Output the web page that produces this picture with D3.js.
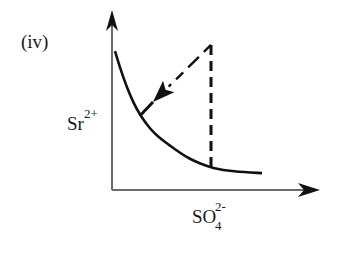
<!DOCTYPE html>
<html><head><meta charset="utf-8">
<script src="https://cdn.jsdelivr.net/npm/d3@7"></script>
<style>
html,body{margin:0;padding:0;background:#fff;}
svg{display:block;}
text{font-family:"Liberation Serif","Times New Roman",serif;fill:#1a1a1a;}
</style></head>
<body><svg id="chart"></svg>
<script>
const W=347,H=257;
// curve of solubility product (domain units)
const curveX=[0.15,0.4,0.75,1.1,1.4,1.9,2.4,2.8,3.4,3.9,4.4,5.0,6.05,7.5];
const curveY=[7.72,6.78,5.67,4.78,4.17,3.39,2.86,2.55,2.06,1.72,1.47,1.22,1.02,0.94];
// starting point and path of arrow
const startPt=[4.95,8.06];
const arrowTip=[2.05,4.89];
const hitPt=[1.4,4.12];
const dropEnd=[4.95,1.22];
const labels={panel:'(iv)',y:'Sr',ySup:'2+',x:'SO',xSub:'4',xSup:'2-'};

const svg=d3.select('#chart').attr('width',W).attr('height',H).attr('viewBox',`0 0 ${W} ${H}`);
const x=d3.scaleLinear().domain([0,10]).range([112,312]);
const y=d3.scaleLinear().domain([0,10]).range([190,10]);

// axes
svg.append('line').attr('x1',x(0)).attr('x2',x(9.6)).attr('y1',y(0)).attr('y2',y(0))
  .attr('stroke','#6b6b6b').attr('stroke-width',2);
svg.append('line').attr('x1',x(0)).attr('x2',x(0)).attr('y1',y(0)).attr('y2',y(9.6))
  .attr('stroke','#6b6b6b').attr('stroke-width',2);
// arrowheads (swept)
const xt=x(10.4), yt=y(10.0);
svg.append('path').attr('d',`M${xt},${y(0)} L${xt-22},${y(0)-7} L${xt-16},${y(0)} L${xt-22},${y(0)+7}Z`).attr('fill','#111');
svg.append('path').attr('d',`M${x(0)},${yt} L${x(0)-6},${yt+21} L${x(0)},${yt+15} L${x(0)+6},${yt+21}Z`).attr('fill','#111');

// curve
const pts=curveX.map((v,i)=>[v,curveY[i]]);
svg.append('path').datum(pts)
  .attr('d',d3.line().x(d=>x(d[0])).y(d=>y(d[1])).curve(d3.curveBasis))
  .attr('fill','none').attr('stroke','#111').attr('stroke-width',2.6);

// vertical dashed drop
svg.append('line').attr('x1',x(startPt[0])).attr('x2',x(dropEnd[0]))
  .attr('y1',y(startPt[1])).attr('y2',y(dropEnd[1]))
  .attr('stroke','#111').attr('stroke-width',3).attr('stroke-dasharray','10,6');

// diagonal dashed arrow
const sx=x(startPt[0]), sy=y(startPt[1]), tx=x(arrowTip[0]), ty=y(arrowTip[1]);
const ang=Math.atan2(ty-sy,tx-sx), L=22, hw=8;
const bx=tx-L*Math.cos(ang), by=ty-L*Math.sin(ang);
svg.append('line').attr('x1',sx).attr('y1',sy).attr('x2',bx).attr('y2',by)
  .attr('stroke','#111').attr('stroke-width',2.4).attr('stroke-dasharray','10,7,15,7');
const nx=-Math.sin(ang), ny=Math.cos(ang);
const mx=tx-(L*0.8)*Math.cos(ang), my=ty-(L*0.8)*Math.sin(ang);
svg.append('path').attr('d',`M${tx},${ty} L${bx+nx*hw},${by+ny*hw} L${mx},${my} L${bx-nx*hw},${by-ny*hw}Z`).attr('fill','#111');
svg.append('line').attr('x1',tx).attr('y1',ty).attr('x2',x(hitPt[0])).attr('y2',y(hitPt[1]))
  .attr('stroke','#111').attr('stroke-width',3);

// labels
svg.append('text').attr('x',21).attr('y',48).attr('font-size',19).text(labels.panel);
const ty1=svg.append('text').attr('x',67).attr('y',130).attr('font-size',19);
ty1.append('tspan').text(labels.y);
ty1.append('tspan').attr('dy',-12).attr('font-size',13).text(labels.ySup);
svg.append('text').attr('x',192).attr('y',223).attr('font-size',19).text(labels.x);
svg.append('text').attr('x',215).attr('y',230).attr('font-size',13).text(labels.xSub);
svg.append('text').attr('x',215).attr('y',211).attr('font-size',13).text(labels.xSup);
</script></body></html>
